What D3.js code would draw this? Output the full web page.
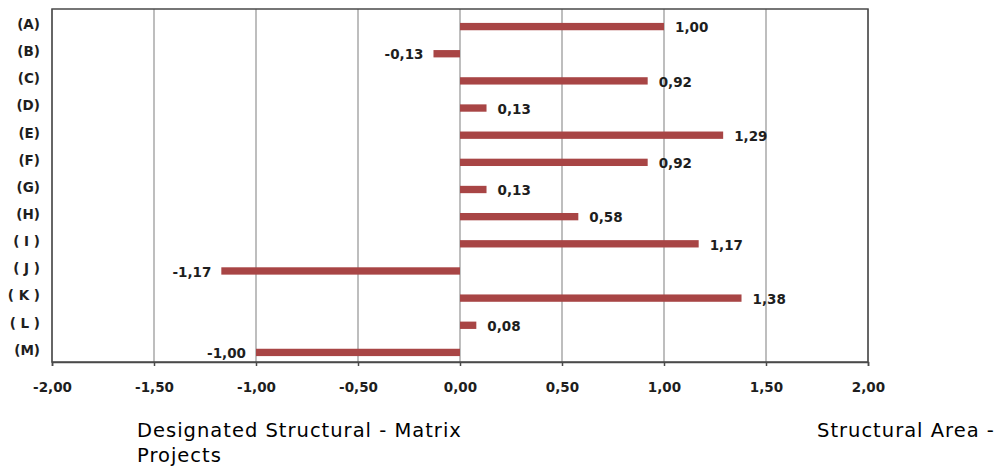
<!DOCTYPE html>
<html>
<head>
<meta charset="utf-8">
<script src="https://cdn.jsdelivr.net/npm/d3@7"></script>
<style>
  html, body { margin: 0; padding: 0; background: #fff; }
  svg { display: block; }
</style>
</head>
<body>
<svg id="chart" width="998" height="466"></svg>
<script>
// Category codes, top to bottom
const categories = ["(A)", "(B)", "(C)", "(D)", "(E)", "(F)", "(G)", "(H)", "( I )", "( J )", "( K )", "( L )", "(M)"];
// Score per category
const values = [1.00, -0.13, 0.92, 0.13, 1.29, 0.92, 0.13, 0.58, 1.17, -1.17, 1.38, 0.08, -1.00];
// Horizontal axis ticks
const xTicks = [-2, -1.5, -1, -0.5, 0, 0.5, 1, 1.5, 2];
// Captions under the axis
const leftCaption = ["Designated Structural - Matrix", "Projects"];
const rightCaption = ["Structural Area -"];

const fmt = v => d3.format(".2f")(v).replace("−", "-").replace(".", ",");

const svg = d3.select("#chart");
const plot = { left: 52, right: 868, top: 9, bottom: 362 };

const x = d3.scaleLinear().domain([-2, 2]).range([plot.left, plot.right]);
// category rows sit slightly low inside the frame
const y = d3.scaleBand().domain(categories).range([plot.top + 4, plot.bottom + 4])
  .paddingInner(0.73).paddingOuter(0.365);

const boldFont = "DejaVu Sans, Verdana, sans-serif";
const ink = "#1e1e1e";

// vertical gridlines
svg.append("g")
  .selectAll("line")
  .data(xTicks)
  .join("line")
  .attr("x1", d => x(d)).attr("x2", d => x(d))
  .attr("y1", plot.top).attr("y2", plot.bottom)
  .attr("stroke", "#a8a8a8")
  .attr("stroke-width", 1.5);

// bars
svg.append("g")
  .selectAll("rect")
  .data(values)
  .join("rect")
  .attr("x", d => x(Math.min(0, d)))
  .attr("width", d => Math.abs(x(d) - x(0)))
  .attr("y", (d, i) => y(categories[i]))
  .attr("height", y.bandwidth())
  .attr("fill", "#a84545");

// value labels
svg.append("g")
  .selectAll("text")
  .data(values)
  .join("text")
  .attr("x", d => d >= 0 ? x(d) + 11 : x(d) - 10)
  .attr("y", (d, i) => y(categories[i]) + y.bandwidth() / 2 + 1)
  .attr("dy", "0.35em")
  .attr("text-anchor", d => d >= 0 ? "start" : "end")
  .attr("font-family", boldFont)
  .attr("font-weight", "bold")
  .attr("font-size", 13.5)
  .attr("fill", ink)
  .text(d => fmt(d));

// plot frame
svg.append("rect")
  .attr("x", plot.left).attr("y", plot.top)
  .attr("width", plot.right - plot.left)
  .attr("height", plot.bottom - plot.top)
  .attr("fill", "none")
  .attr("stroke", "#4a4a4a")
  .attr("stroke-width", 1.5);

// x axis
const xAxis = d3.axisBottom(x).tickValues(xTicks).tickSize(4).tickPadding(16).tickFormat(fmt);
const gx = svg.append("g").attr("transform", `translate(0,${plot.bottom})`).call(xAxis);
gx.select(".domain").attr("stroke", "#4a4a4a").attr("stroke-width", 1.5);
gx.selectAll(".tick line").attr("stroke", "#4a4a4a").attr("stroke-width", 1.5);
gx.selectAll(".tick text")
  .attr("font-family", boldFont)
  .attr("font-weight", "bold")
  .attr("font-size", 13.5)
  .attr("fill", ink);

// category axis
const yAxis = d3.axisLeft(y).tickSize(0).tickPadding(12);
const gy = svg.append("g").attr("transform", `translate(${plot.left},-2)`).call(yAxis);
gy.select(".domain").remove();
gy.selectAll(".tick text")
  .attr("font-family", boldFont)
  .attr("font-weight", "bold")
  .attr("font-size", 13.5)
  .attr("fill", ink);

// captions
const capFont = "DejaVu Sans, Verdana, sans-serif";
svg.append("text")
  .attr("x", 137).attr("y", 437)
  .attr("font-family", capFont).attr("font-size", 19.5)
  .attr("letter-spacing", 1).attr("fill", "#000")
  .selectAll("tspan")
  .data(leftCaption)
  .join("tspan")
  .attr("x", 137)
  .attr("dy", (d, i) => i === 0 ? 0 : 25)
  .text(d => d);

svg.append("text")
  .attr("x", 817).attr("y", 437)
  .attr("font-family", capFont).attr("font-size", 19.5)
  .attr("letter-spacing", 1).attr("fill", "#000")
  .text(rightCaption[0]);
</script>
</body>
</html>
